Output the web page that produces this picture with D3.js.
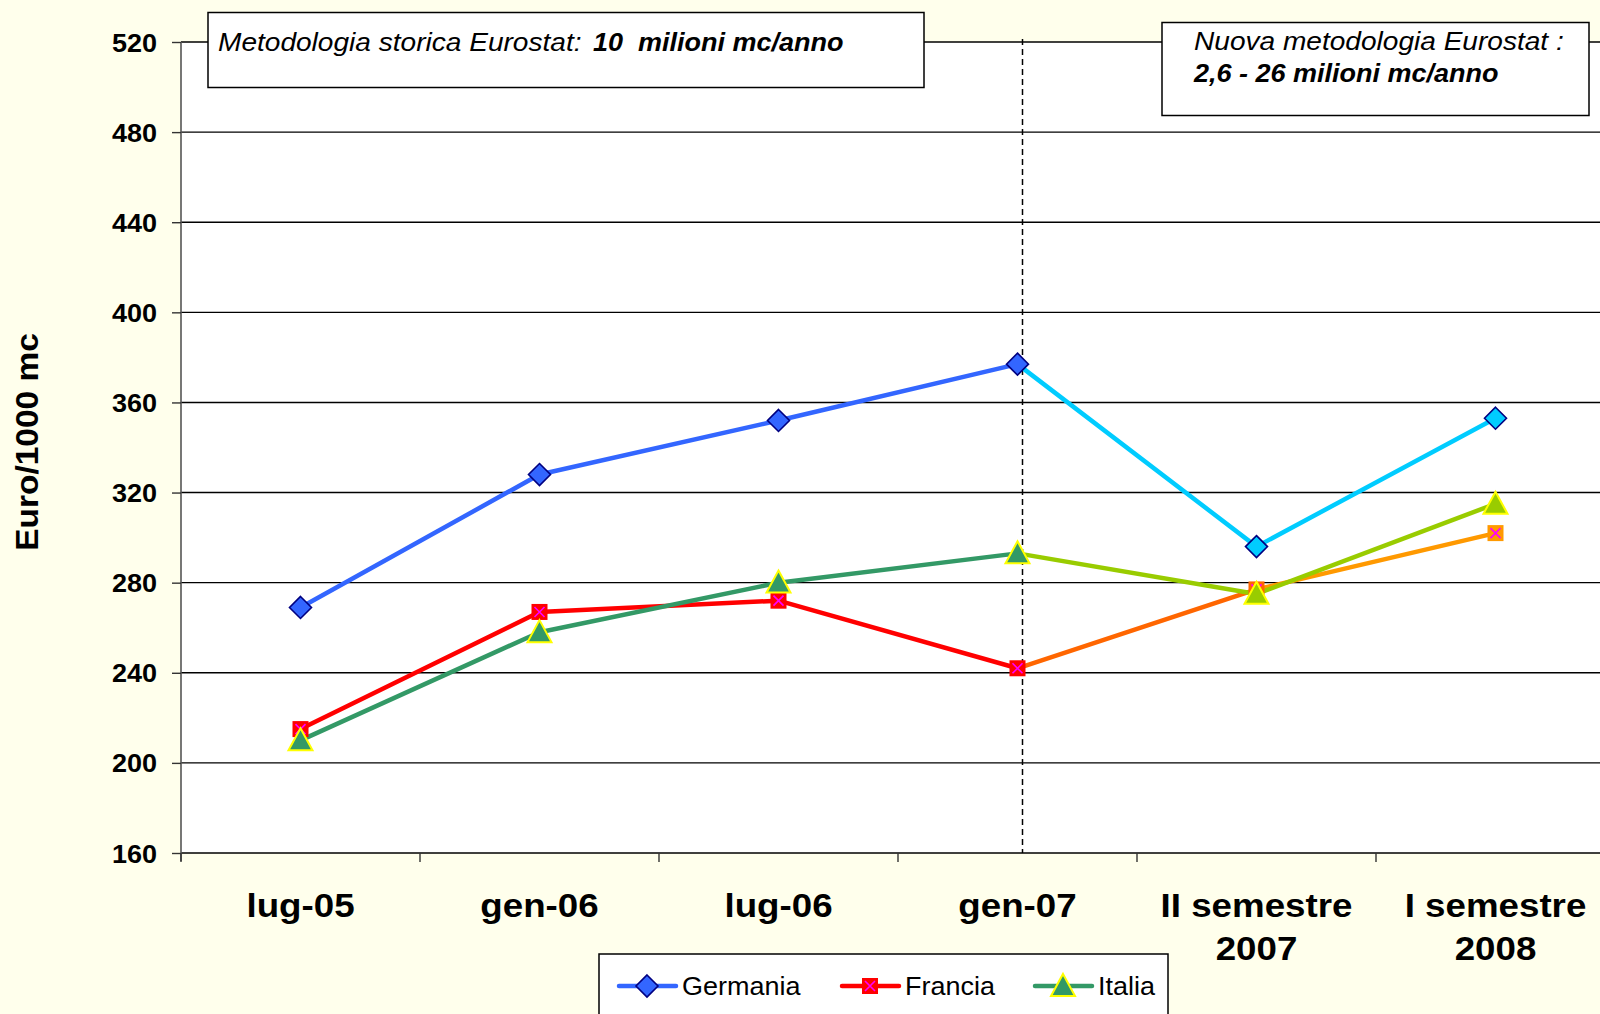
<!DOCTYPE html>
<html>
<head>
<meta charset="utf-8">
<script src="https://cdn.jsdelivr.net/npm/d3@7"></script>
<style>
  html, body { margin: 0; padding: 0; background: #FFFFEC; }
  svg { display: block; }
  text { font-family: "Liberation Sans", Arial, sans-serif; }
</style>
</head>
<body>
<svg id="chart" width="1600" height="1014"></svg>
<script>
// ---------- DATA ----------
const categories = ["lug-05", "gen-06", "lug-06", "gen-07", "II semestre\n2007", "I semestre\n2008"];
const germania = [269, 328, 352, 377, 296, 353];
const francia  = [215, 267, 272, 242, 277, 302];
const italia   = [210, 258, 280, 293, 275, 315];
const yTicks = [160, 200, 240, 280, 320, 360, 400, 440, 480, 520];
const seriesNames = ["Germania", "Francia", "Italia"];
const yTitle = "Euro/1000 mc";
const note1a = "Metodologia storica Eurostat:";
const note1b = "10  milioni mc/anno";
const note2a = "Nuova metodologia Eurostat :";
const note2b = "2,6 - 26 milioni mc/anno";
const splitCategory = "gen-07";

// ---------- STYLE ----------
const SX = 1.08;
const series = [
  { name: seriesNames[0], values: germania, shape: "diamond",
    segColors: ["#3366FF", "#3366FF", "#3366FF", "#00CCFF", "#00CCFF"],
    ptColors: ["#3366FF", "#3366FF", "#3366FF", "#3366FF", "#00CCFF", "#00CCFF"], stroke: "#000080" },
  { name: seriesNames[1], values: francia, shape: "square",
    segColors: ["#FF0000", "#FF0000", "#FF0000", "#FF6600", "#FF9900"],
    ptColors: ["#FF0000", "#FF0000", "#FF0000", "#FF0000", "#FF6600", "#FF9900"], stroke: "#FF00FF" },
  { name: seriesNames[2], values: italia, shape: "triangle",
    segColors: ["#339966", "#339966", "#339966", "#99CC00", "#99CC00"],
    ptColors: ["#339966", "#339966", "#339966", "#339966", "#99CC00", "#99CC00"], stroke: "#FFFF00" }
];

const svg = d3.select("#chart");
const W = 1600, H = 1014;
const plot = { left: 181, right: 1615, top: 42, bottom: 853 };

svg.append("rect").attr("width", W).attr("height", H).attr("fill", "#FFFFEC");

const x = d3.scaleBand().domain(categories).range([plot.left, plot.right]).padding(0);
const xc = c => x(c) + x.bandwidth() / 2;
const y = d3.scaleLinear().domain([160, 520]).range([plot.bottom, plot.top]);

// plot area
svg.append("rect").attr("x", plot.left).attr("y", plot.top)
  .attr("width", plot.right - plot.left).attr("height", plot.bottom - plot.top)
  .attr("fill", "#FFFFFF");

// gridlines
svg.append("g").selectAll("line").data(yTicks).join("line")
  .attr("x1", plot.left).attr("x2", plot.right)
  .attr("y1", d => y(d)).attr("y2", d => y(d))
  .attr("stroke", "#000").attr("stroke-width", 1.4);

// y axis
const yAxis = svg.append("g").attr("transform", `translate(${plot.left},0)`)
  .call(d3.axisLeft(y).tickValues(yTicks).tickSize(9).tickPadding(15).tickSizeOuter(0));
yAxis.select(".domain").attr("stroke", "#555").attr("stroke-width", 1.6)
  .attr("d", `M0,${plot.top}V${plot.bottom + 8}`);
yAxis.selectAll(".tick line").attr("stroke", "#333").attr("stroke-width", 1.4);
yAxis.selectAll(".tick text")
  .attr("x", -24 / SX).attr("dy", "0.36em")
  .attr("transform", `scale(${SX},1)`)
  .style("font-size", "25px").style("font-weight", "bold").attr("fill", "#000");

// x axis: boundary ticks
const bounds = categories.map(c => x(c)).concat([plot.right]);
svg.append("g").selectAll("line").data(bounds).join("line")
  .attr("x1", d => d).attr("x2", d => d)
  .attr("y1", plot.bottom).attr("y2", plot.bottom + 9)
  .attr("stroke", "#333").attr("stroke-width", 1.4);

// x labels
const xl = svg.append("g").selectAll("text").data(categories).join("text")
  .attr("transform", d => `translate(${xc(d)},917) scale(${SX},1)`)
  .attr("text-anchor", "middle")
  .style("font-size", "34px").style("font-weight", "bold");
xl.each(function (d) {
  const lines = d.split("\n");
  d3.select(this).selectAll("tspan").data(lines).join("tspan")
    .attr("x", 0).attr("y", (l, i) => i * 43).text(l => l);
});

// y title
svg.append("text")
  .attr("transform", `translate(38,442) rotate(-90) scale(${SX},1)`)
  .attr("text-anchor", "middle")
  .style("font-size", "31px").style("font-weight", "bold")
  .text(yTitle);

// dashed divider
const xs = xc(splitCategory) + 5;
svg.append("line").attr("x1", xs).attr("x2", xs)
  .attr("y1", plot.top - 3).attr("y2", plot.bottom)
  .attr("stroke", "#000").attr("stroke-width", 1.5).attr("stroke-dasharray", "6,4");

// lines
const linesG = svg.append("g");
series.forEach(s => {
  for (let i = 0; i < s.values.length - 1; i++) {
    linesG.append("line")
      .attr("x1", xc(categories[i])).attr("y1", y(s.values[i]))
      .attr("x2", xc(categories[i + 1])).attr("y2", y(s.values[i + 1]))
      .attr("stroke", s.segColors[i]).attr("stroke-width", 4.5)
      .attr("stroke-linecap", "round");
  }
});

// markers
function drawMarker(g, shape, cx, cy, fill, stroke) {
  if (shape === "diamond") {
    const r = 11;
    g.append("path").attr("d", `M${cx},${cy - r}L${cx + r},${cy}L${cx},${cy + r}L${cx - r},${cy}Z`)
      .attr("fill", fill).attr("stroke", stroke).attr("stroke-width", 1.6);
  } else if (shape === "square") {
    const r = 8;
    g.append("rect").attr("x", cx - r).attr("y", cy - r).attr("width", 2 * r).attr("height", 2 * r)
      .attr("fill", fill);
    const k = 5;
    g.append("path").attr("d", `M${cx - k},${cy - k}L${cx + k},${cy + k}M${cx - k},${cy + k}L${cx + k},${cy - k}`)
      .attr("stroke", stroke).attr("stroke-width", 1.6).attr("fill", "none");
  } else {
    const hw = 12, h = 22;
    g.append("path").attr("d", `M${cx},${cy - h * 0.55}L${cx + hw},${cy + h * 0.45}L${cx - hw},${cy + h * 0.45}Z`)
      .attr("fill", fill).attr("stroke", stroke).attr("stroke-width", 2);
  }
}
const markG = svg.append("g");
series.forEach(s => {
  s.values.forEach((v, i) => drawMarker(markG, s.shape, xc(categories[i]), y(v), s.ptColors[i], s.stroke));
});

// annotation boxes
function stretchedText(g, tx, ty, str, size, weight, style) {
  return g.append("text")
    .attr("transform", `translate(${tx},${ty}) scale(${SX},1)`)
    .style("font-size", size + "px").style("font-weight", weight).style("font-style", style)
    .style("white-space", "pre").attr("xml:space", "preserve")
    .text(str);
}
const boxes = svg.append("g");
boxes.append("rect").attr("x", 208).attr("y", 12.5).attr("width", 716).attr("height", 75)
  .attr("fill", "#fff").attr("stroke", "#000").attr("stroke-width", 1.5);
stretchedText(boxes, 218, 51, note1a, 26, "normal", "italic");
stretchedText(boxes, 593, 51, note1b, 25, "bold", "italic");

boxes.append("rect").attr("x", 1162).attr("y", 22.5).attr("width", 427).attr("height", 93)
  .attr("fill", "#fff").attr("stroke", "#000").attr("stroke-width", 1.5);
stretchedText(boxes, 1194, 50, note2a, 26, "normal", "italic");
stretchedText(boxes, 1194, 82, note2b, 25, "bold", "italic");

// legend
const leg = svg.append("g");
leg.append("rect").attr("x", 599).attr("y", 954).attr("width", 569).attr("height", 80)
  .attr("fill", "#fff").attr("stroke", "#000").attr("stroke-width", 1.5);
const legX = [619, 842, 1035];
const legY = 986;
series.forEach((s, i) => {
  leg.append("line").attr("x1", legX[i]).attr("x2", legX[i] + 57)
    .attr("y1", legY).attr("y2", legY)
    .attr("stroke", s.segColors[0]).attr("stroke-width", 4.5).attr("stroke-linecap", "round");
  drawMarker(leg, s.shape, legX[i] + 28, legY, s.ptColors[0], s.stroke);
  stretchedText(leg, legX[i] + 63, legY + 9, s.name, 25, "normal", "normal");
});
</script>
</body>
</html>
